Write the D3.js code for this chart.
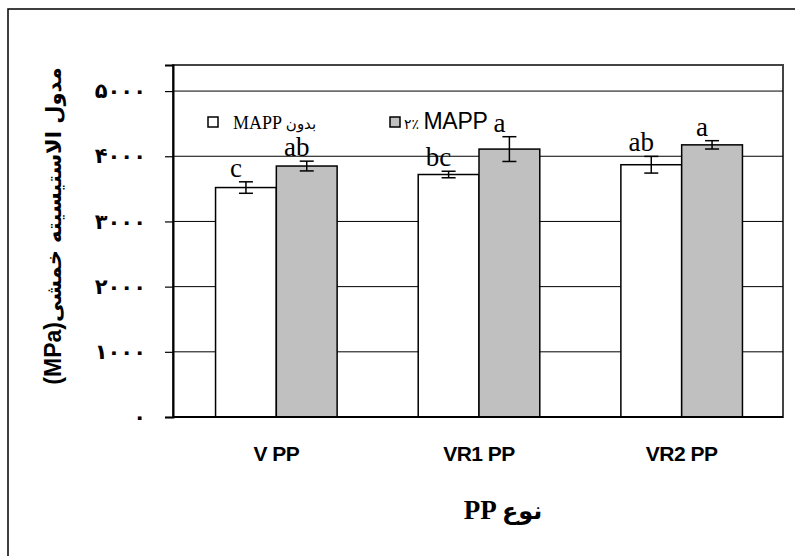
<!DOCTYPE html>
<html>
<head>
<meta charset="utf-8">
<script src="https://cdn.jsdelivr.net/npm/d3@7"></script>
<style>
  html, body { margin: 0; padding: 0; background: #fff; }
  svg { display: block; }
</style>
</head>
<body>
<svg id="chart" width="795" height="556"></svg>
<script>
// PP grades on the x axis
const categories = ["V PP", "VR1 PP", "VR2 PP"];
// Series: without MAPP / with 2% MAPP
const seriesKeys = ["plain", "mapp"];
const plainValues = [3520, 3720, 3870];
const plainErrors = [88, 50, 128];
const mappValues = [3850, 4110, 4175];
const mappErrors = [75, 190, 64];
// Duncan grouping letters above each bar
const plainLetters = ["c", "bc", "ab"];
const mappLetters = ["ab", "a", "a"];
// Y axis ticks
const yTicks = [0, 1000, 2000, 3000, 4000, 5000];

const persianDigits = s => String(s).replace(/[0-9]/g, d => "۰۱۲۳۴۵۶۷۸۹"[+d]);

const svg = d3.select("#chart");
const plot = { left: 173, right: 783, top: 65, bottom: 417 };

const x = d3.scaleBand().domain(categories).range([plot.left + 2, plot.right]).padding(0);
const xs = d3.scaleBand().domain(seriesKeys).range([0, x.bandwidth()])
  .paddingInner(0).paddingOuter(0.667);
const y = d3.scaleLinear().domain([0, 5400]).range([plot.bottom, plot.top]);

// outer chart frame
svg.append("rect")
  .attr("x", 8).attr("y", 9).attr("width", 800).attr("height", 560)
  .attr("fill", "#fff").attr("stroke", "#000").attr("stroke-width", 1.5);

// plot area frame
svg.append("rect")
  .attr("x", plot.left).attr("y", plot.top)
  .attr("width", plot.right - plot.left).attr("height", plot.bottom - plot.top)
  .attr("fill", "#fff").attr("stroke", "#444").attr("stroke-width", 2);

// horizontal gridlines
svg.append("g").selectAll("line")
  .data(yTicks.filter(t => t > 0))
  .join("line")
  .attr("x1", plot.left).attr("x2", plot.right)
  .attr("y1", d => y(d)).attr("y2", d => y(d))
  .attr("stroke", "#000").attr("stroke-width", 1);

// y axis
const yAxis = svg.append("g")
  .attr("transform", `translate(${plot.left},0)`)
  .call(d3.axisLeft(y).tickValues(yTicks).tickSize(8).tickPadding(19)
    .tickFormat(persianDigits));
yAxis.select(".domain").attr("stroke", "#000").attr("stroke-width", 2);
yAxis.selectAll(".tick line").attr("stroke", "#000").attr("stroke-width", 1.2);
yAxis.selectAll(".tick text")
  .attr("font-family", "DejaVu Sans").attr("font-weight", "bold")
  .attr("font-size", 21).attr("fill", "#000").attr("direction", "ltr");

// bars
const rows = [];
categories.forEach((c, i) => {
  rows.push({ cat: c, key: "plain", v: plainValues[i], e: plainErrors[i], letter: plainLetters[i] });
  rows.push({ cat: c, key: "mapp", v: mappValues[i], e: mappErrors[i], letter: mappLetters[i] });
});
const fill = { plain: "#ffffff", mapp: "#c0c0c0" };

const barG = svg.append("g");
barG.selectAll("rect")
  .data(rows)
  .join("rect")
  .attr("x", d => x(d.cat) + xs(d.key))
  .attr("y", d => y(d.v))
  .attr("width", xs.bandwidth())
  .attr("height", d => y(0) - y(d.v))
  .attr("fill", d => fill[d.key])
  .attr("stroke", "#000").attr("stroke-width", 1.5);

// x axis line
svg.append("line")
  .attr("x1", plot.left).attr("x2", plot.right)
  .attr("y1", y(0)).attr("y2", y(0))
  .attr("stroke", "#000").attr("stroke-width", 2);

// error bars
const cx = d => x(d.cat) + xs(d.key) + xs.bandwidth() / 2;
const errG = svg.append("g").attr("stroke", "#000").attr("stroke-width", 1.5);
rows.forEach(d => {
  const c = cx(d);
  errG.append("line").attr("x1", c).attr("x2", c).attr("y1", y(d.v + d.e)).attr("y2", y(d.v - d.e));
  errG.append("line").attr("x1", c - 7).attr("x2", c + 7).attr("y1", y(d.v + d.e)).attr("y2", y(d.v + d.e));
  errG.append("line").attr("x1", c - 7).attr("x2", c + 7).attr("y1", y(d.v - d.e)).attr("y2", y(d.v - d.e));
});

// grouping letters
svg.append("g").selectAll("text")
  .data(rows)
  .join("text")
  .attr("x", d => cx(d) - 10)
  .attr("y", d => y(d.v + d.e) - 5)
  .attr("text-anchor", "middle")
  .attr("font-family", "Liberation Serif").attr("font-size", 27)
  .attr("fill", "#000")
  .text(d => d.letter);

// x category labels
svg.append("g").selectAll("text")
  .data(categories)
  .join("text")
  .attr("x", d => x(d) + x.bandwidth() / 2)
  .attr("y", 461)
  .attr("text-anchor", "middle")
  .attr("font-family", "Liberation Sans").attr("font-weight", "bold")
  .attr("font-size", 21).attr("letter-spacing", -0.5).attr("fill", "#000")
  .text(d => d);

// x title
const xt = svg.append("text")
  .attr("x", (plot.left + plot.right) / 2 + 25).attr("y", 519)
  .attr("text-anchor", "middle").attr("direction", "ltr")
  .attr("font-weight", "bold").attr("fill", "#000");
xt.append("tspan").attr("font-family", "Liberation Serif").attr("font-size", 27).text("PP ");
xt.append("tspan").attr("font-family", "DejaVu Sans").attr("font-size", 24).text("نوع");

// y title
const yt = svg.append("text")
  .attr("transform", "translate(61,226) rotate(-90)")
  .attr("text-anchor", "middle").attr("direction", "ltr")
  .attr("font-weight", "bold").attr("fill", "#000");
yt.append("tspan").attr("font-family", "Liberation Sans").attr("font-size", 23).text("(MPa)");
yt.append("tspan").attr("font-family", "DejaVu Sans").attr("font-size", 21).text("مدول الاستیسیته خمشی");

// legend
const lg = svg.append("g");
lg.append("rect").attr("x", 208).attr("y", 117).attr("width", 10).attr("height", 10)
  .attr("fill", fill.plain).attr("stroke", "#000").attr("stroke-width", 1.5);
const l1 = lg.append("text").attr("x", 233).attr("y", 129).attr("direction", "ltr").attr("fill", "#000");
l1.append("tspan").attr("font-family", "Liberation Serif").attr("font-size", 18).text("MAPP ");
l1.append("tspan").attr("font-family", "DejaVu Sans").attr("font-size", 15).text("بدون");

lg.append("rect").attr("x", 390).attr("y", 117).attr("width", 10).attr("height", 10)
  .attr("fill", fill.mapp).attr("stroke", "#000").attr("stroke-width", 1.5);
const l2 = lg.append("text").attr("x", 404).attr("y", 129).attr("direction", "ltr").attr("fill", "#000");
l2.append("tspan").attr("font-family", "DejaVu Sans").attr("font-size", 14).text("۲٪ ");
l2.append("tspan").attr("font-family", "Liberation Sans").attr("font-size", 23)
  .attr("letter-spacing", -0.3).text("MAPP");
</script>
</body>
</html>
